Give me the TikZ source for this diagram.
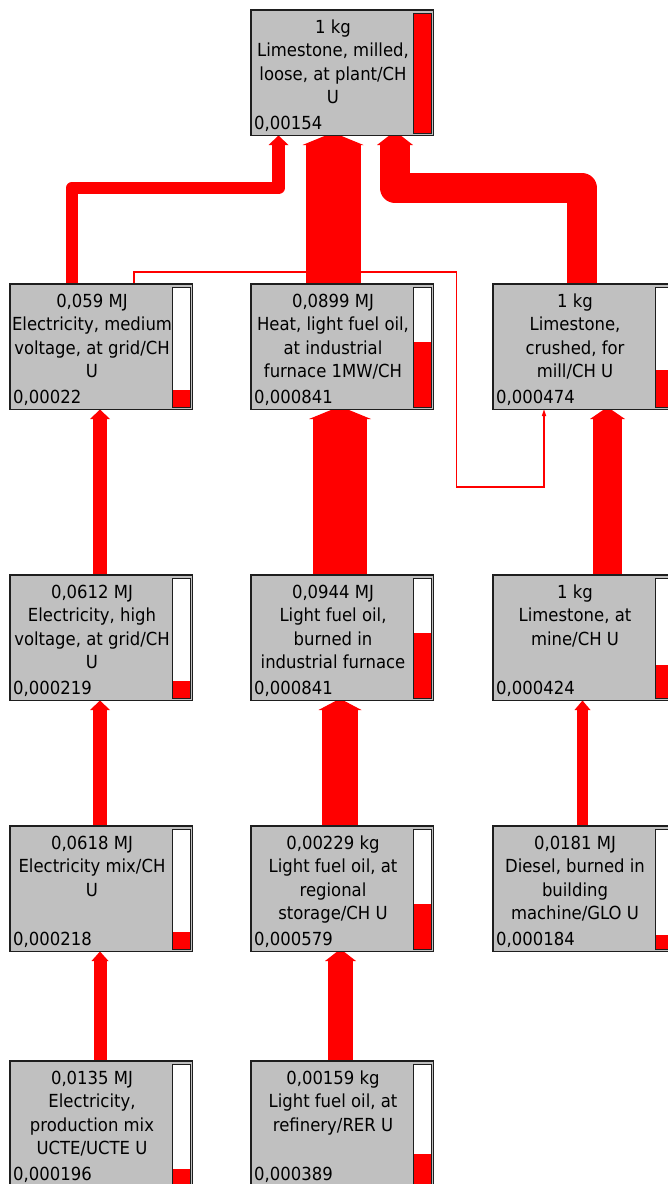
\documentclass[tikz,border=0pt]{standalone}
\usepackage{fontspec}
\setmainfont{DejaVu Sans}[FakeStretch=0.915]
\usetikzlibrary{calc,arrows.meta}
\definecolor{flowred}{RGB}{255,0,0}
\definecolor{boxgray}{RGB}{192,192,192}
\definecolor{edge}{RGB}{30,30,30}
\pgfdeclarelayer{bg}
\pgfsetlayers{bg,main}
\tikzset{
  box/.style={draw=edge, line width=1.5pt, fill=boxgray, minimum width=182.5pt,
    minimum height=125.5pt, anchor=north west, inner sep=0pt, outer sep=0pt},
  barline/.style={draw=edge, line width=1pt},
  title/.style={anchor=north, inner sep=0pt, align=center,
    font=\fontsize{18}{23.5}\selectfont, text=black},
  value/.style={anchor=base west, inner sep=0pt,
    font=\fontsize{18}{23.5}\selectfont, text=black},
  flow/.style={draw=flowred, line join=round},
  thinflow/.style={draw=flowred, line width=1.3pt},
  ahead/.style 2 args={-{Triangle[width=#1,length=#2,line width=0pt]}},
}
\newcommand\procbox[6]{%
  \node[box] (#1) at (#2,#3) {};
  \fill[white] ($(#1.north east)+(-20,3)$) rectangle ($(#1.south east)+(-2,-2)$);
  \fill[flowred] ($(#1.south east)+(-20,-2)$) rectangle ($(#1.south east)+(-2,{-2-120.5*#4})$);
  \draw[barline] ($(#1.north east)+(-20,3)$) rectangle ($(#1.south east)+(-2,-2)$);
  \node[title] (#1-t) at ($(#1.north west)+(82,8)$) {\rule{0pt}{15pt}#5};
  \node[value] (#1-v) at ($(#1.south west)+(3,-6)$) {#6};
}
\begin{document}
\begin{tikzpicture}[x=1pt,y=-1pt]
\useasboundingbox (0,0) rectangle (668,1184);

\procbox{top}{251}{10}{1}{1 kg\\Limestone, milled,\\loose, at plant/CH\\U}{0,00154}
\procbox{a2}{10}{284}{0.143}{0,059 MJ\\Electricity, medium\\voltage, at grid/CH\\U}{0,00022}
\procbox{b2}{251}{284}{0.546}{0,0899 MJ\\Heat, light fuel oil,\\at industrial\\furnace 1MW/CH}{0,000841}
\procbox{c2}{493}{284}{0.308}{1 kg\\Limestone,\\crushed, for\\mill/CH U}{0,000474}
\procbox{a3}{10}{575}{0.142}{0,0612 MJ\\Electricity, high\\voltage, at grid/CH\\U}{0,000219}
\procbox{b3}{251}{575}{0.546}{0,0944 MJ\\Light fuel oil,\\burned in\\industrial furnace}{0,000841}
\procbox{c3}{493}{575}{0.275}{1 kg\\Limestone, at\\mine/CH U}{0,000424}
\procbox{a4}{10}{826}{0.1416}{0,0618 MJ\\Electricity mix/CH\\U}{0,000218}
\procbox{b4}{251}{826}{0.376}{0,00229 kg\\Light fuel oil, at\\regional\\storage/CH U}{0,000579}
\procbox{c4}{493}{826}{0.119}{0,0181 MJ\\Diesel, burned in\\building\\machine/GLO U}{0,000184}
\procbox{a5}{10}{1061}{0.127}{0,0135 MJ\\Electricity,\\production mix\\UCTE/UCTE U}{0,000196}
\procbox{b5}{251}{1061}{0.2526}{0,00159 kg\\Light fuel oil, at\\refinery/RER U}{0,000389}

\begin{pgfonlayer}{bg}
  % into the top box
  \coordinate (j1) at ($(top.south west)+(27.5,52.5)$);
  \draw[flow, line width=12.5pt, ahead={20pt}{9.5pt}]
    ($(a2.north west)+(62,0)$) |- (j1) -- ($(top.south west)+(27.5,0)$);
  \draw[flow, line width=55pt, ahead={61pt}{12.5pt}]
    ($(b2.north west)+(82,0)$) -- ($(top.south west)+(82,-3)$);
  \coordinate (j2) at ($(top.south west)+(144,52.5)$);
  \draw[flow, line width=30pt, ahead={36pt}{14pt}]
    ($(c2.north west)+(89,0)$) |- (j2) -- ($(top.south west)+(144,-4.5)$);
  % thin connector a2 -> c2
  \coordinate (t2) at ($(c2.north west)+(-36.5,-12)$);
  \coordinate (t4) at ($(c2.south west)+(51,77.5)$);
  \draw[thinflow, ahead={4.5pt}{6.5pt}]
    ($(a2.north west)+(124,0)$) |- (t2) |- (t4) -- ($(c2.south west)+(51,0)$);
  % column A
  \draw[flow, line width=14pt, ahead={20pt}{9.5pt}]
    ($(a3.north west)+(90,0)$) -- ($(a2.south west)+(90,0)$);
  \draw[flow, line width=14pt, ahead={20pt}{9.5pt}]
    ($(a4.north west)+(90,0)$) -- ($(a3.south west)+(90,0)$);
  \draw[flow, line width=13pt, ahead={17pt}{9.5pt}]
    ($(a5.north west)+(90,0)$) -- ($(a4.south west)+(90,0)$);
  % column B
  \draw[flow, line width=54pt, ahead={62pt}{12.7pt}]
    ($(b3.north west)+(89,0)$) -- ($(b2.south west)+(89,-3.2)$);
  \draw[flow, line width=36pt, ahead={43pt}{11.4pt}]
    ($(b4.north west)+(89,0)$) -- ($(b3.south west)+(89,-1.9)$);
  \draw[flow, line width=25pt, ahead={31pt}{12pt}]
    ($(b5.north west)+(89.5,0)$) -- ($(b4.south west)+(89.5,-2.5)$);
  % column C
  \draw[flow, line width=29pt, ahead={35pt}{12pt}]
    ($(c3.north west)+(114.5,0)$) -- ($(c2.south west)+(114.5,-2.5)$);
  \draw[flow, line width=11pt, ahead={16pt}{9.5pt}]
    ($(c4.north west)+(89.5,0)$) -- ($(c3.south west)+(89.5,0)$);
\end{pgfonlayer}
\end{tikzpicture}
\end{document}
